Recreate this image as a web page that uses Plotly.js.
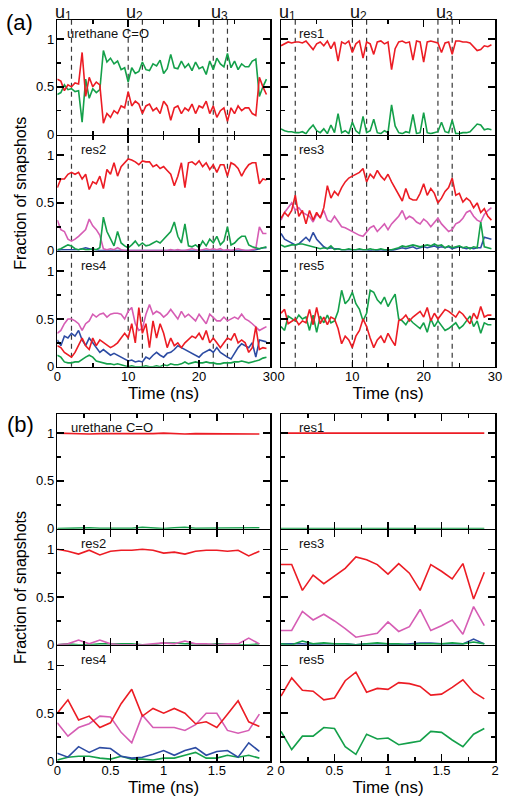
<!DOCTYPE html>
<html>
<head>
<meta charset="utf-8">
<script src="https://cdn.plot.ly/plotly-3.0.1.min.js"></script>
<style>
html,body{margin:0;padding:0;background:#fff;}
#chart{width:512px;height:804px;}
</style>
</head>
<body>
<div id="chart"></div>
<script>
// ---------------- DATA ----------------
const timeA = [0,0.5,1,1.5,2,2.5,3,3.5,4,4.5,5,5.5,6,6.5,7,7.5,8,8.5,9,9.5,10,10.5,11,11.5,12,12.5,13,13.5,14,14.5,15,15.5,16,16.5,17,17.5,18,18.5,19,19.5,20,20.5,21,21.5,22,22.5,23,23.5,24,24.5,25,25.5,26,26.5,27,27.5,28,28.5,29,29.5];
const timeB = [0,0.1,0.2,0.3,0.4,0.5,0.6,0.7,0.8,0.9,1.0,1.1,1.2,1.3,1.4,1.5,1.6,1.7,1.8,1.9];

const panelNames = ['urethane C=O','res1','res2','res3','res4','res5'];
const dashTimes = [2,10,12,22,24];
const uLetter = 'u';
const uSubs = ['1','2','3'];
const uCenters = [1,11,23];
const xTicksA = [0,10,20,30];
const xTickTextA = ['0','10','20','30'];
const xMinorA = [5,15,25];
const xTicksB = [0,0.5,1,1.5,2];
const xTickTextB = ['0','0.5','1','1.5','2'];
const xMinorB = [0.25,0.75,1.25,1.75];
const yTicks = [0,0.5,1];
const yTickText = ['0','0.5','1'];
const yMinor = [0.25,0.75];

// (a) urethane C=O
const aUrethRed   = [0.58,0.56,0.46,0.52,0.50,0.54,0.53,0.86,0.40,0.60,0.50,0.55,0.52,0.12,0.22,0.18,0.25,0.22,0.30,0.28,0.45,0.30,0.35,0.32,0.22,0.30,0.32,0.25,0.28,0.22,0.35,0.30,0.15,0.28,0.30,0.22,0.28,0.25,0.32,0.22,0.30,0.28,0.35,0.22,0.30,0.18,0.25,0.28,0.14,0.28,0.22,0.30,0.25,0.28,0.28,0.22,0.20,0.60,0.50,0.42];
const aUrethGreen = [0.42,0.44,0.52,0.47,0.48,0.45,0.46,0.13,0.58,0.38,0.48,0.44,0.47,0.88,0.76,0.80,0.74,0.77,0.68,0.70,0.55,0.70,0.64,0.66,0.76,0.68,0.67,0.74,0.72,0.78,0.64,0.69,0.84,0.70,0.69,0.77,0.70,0.74,0.67,0.76,0.69,0.71,0.63,0.77,0.68,0.80,0.74,0.71,0.85,0.70,0.77,0.68,0.74,0.71,0.71,0.77,0.79,0.40,0.50,0.58];
// (a) res1
const aRes1Red   = [0.93,0.95,0.97,0.96,0.97,0.97,0.96,0.98,0.93,0.89,0.95,0.97,0.93,0.98,0.90,0.97,0.77,0.97,0.95,0.98,0.86,0.95,0.98,0.80,0.97,0.95,0.84,0.97,0.98,0.95,0.97,0.68,0.90,0.97,0.98,0.96,0.97,0.78,0.98,0.97,0.76,0.97,0.98,0.97,0.96,0.86,0.96,0.97,0.84,0.98,0.98,0.97,0.97,0.96,0.92,0.88,0.89,0.93,0.92,0.94];
const aRes1Green = [0.06,0.04,0.03,0.03,0.02,0.02,0.03,0.01,0.06,0.10,0.04,0.02,0.06,0.01,0.10,0.02,0.22,0.02,0.04,0.01,0.13,0.04,0.01,0.19,0.02,0.04,0.16,0.02,0.01,0.04,0.02,0.31,0.09,0.02,0.01,0.03,0.02,0.21,0.01,0.02,0.23,0.02,0.01,0.02,0.03,0.13,0.03,0.02,0.15,0.01,0.01,0.02,0.02,0.03,0.07,0.11,0.10,0.05,0.06,0.05];
// (a) res2
const aRes2Red   = [0.66,0.75,0.75,0.80,0.82,0.80,0.82,0.75,0.80,0.64,0.72,0.70,0.78,0.65,0.85,0.80,0.92,0.78,0.88,0.92,0.96,0.95,0.93,0.90,0.94,0.93,0.93,0.88,0.90,0.86,0.88,0.84,0.80,0.68,0.78,0.92,0.66,0.92,0.93,0.90,0.94,0.88,0.92,0.85,0.90,0.82,0.90,0.90,0.78,0.92,0.90,0.86,0.78,0.85,0.90,0.92,0.92,0.70,0.75,0.74];
const aRes2Green = [0.01,0.02,0.04,0.06,0.05,0.02,0.01,0.02,0.01,0.01,0.02,0.01,0.03,0.35,0.20,0.12,0.05,0.20,0.08,0.05,0.03,0.06,0.10,0.05,0.08,0.05,0.06,0.08,0.10,0.08,0.12,0.15,0.20,0.30,0.15,0.08,0.28,0.05,0.04,0.06,0.03,0.10,0.05,0.12,0.08,0.15,0.06,0.10,0.25,0.06,0.08,0.12,0.15,0.15,0.06,0.04,0.03,0.02,0.03,0.04];
const aRes2Pink  = [0.32,0.22,0.20,0.12,0.10,0.12,0.15,0.18,0.22,0.33,0.26,0.22,0.16,0.02,0.01,0.02,0.01,0.03,0.01,0.00,0.00,0.00,0.00,0.00,0.00,0.00,0.00,0.00,0.00,0.00,0.00,0.00,0.01,0.00,0.01,0.00,0.00,0.01,0.02,0.01,0.00,0.01,0.02,0.01,0.02,0.01,0.02,0.00,0.01,0.00,0.01,0.02,0.01,0.00,0.00,0.01,0.02,0.25,0.18,0.18];
const aRes2Blue  = [0.00,0.01,0.01,0.01,0.01,0.01,0.01,0.02,0.03,0.02,0.01,0.01,0.00,0.00,0.00,0.00,0.00,0.00,0.00,0.00,0.00,0.00,0.00,0.00,0.00,0.00,0.00,0.00,0.00,0.00,0.00,0.00,0.00,0.00,0.00,0.00,0.00,0.00,0.00,0.00,0.00,0.00,0.00,0.00,0.00,0.00,0.00,0.00,0.00,0.00,0.00,0.00,0.00,0.00,0.00,0.00,0.01,0.02,0.03,0.03];
// (a) res3
const aRes3Red   = [0.34,0.40,0.36,0.42,0.58,0.36,0.42,0.28,0.42,0.32,0.40,0.34,0.45,0.68,0.55,0.62,0.58,0.66,0.72,0.76,0.78,0.80,0.82,0.86,0.72,0.80,0.76,0.84,0.78,0.74,0.80,0.72,0.65,0.58,0.52,0.65,0.55,0.53,0.53,0.60,0.70,0.58,0.65,0.60,0.50,0.55,0.62,0.66,0.76,0.58,0.60,0.51,0.55,0.52,0.45,0.50,0.40,0.44,0.36,0.32];
const aRes3Pink  = [0.32,0.40,0.45,0.50,0.42,0.45,0.40,0.38,0.36,0.30,0.38,0.35,0.42,0.32,0.30,0.36,0.30,0.25,0.24,0.22,0.20,0.18,0.16,0.15,0.20,0.24,0.26,0.20,0.24,0.28,0.22,0.28,0.32,0.36,0.42,0.33,0.36,0.34,0.30,0.28,0.33,0.30,0.25,0.30,0.34,0.28,0.24,0.20,0.22,0.28,0.30,0.34,0.40,0.42,0.36,0.32,0.30,0.38,0.42,0.45];
const aRes3Blue  = [0.18,0.12,0.10,0.08,0.06,0.07,0.10,0.14,0.10,0.19,0.12,0.08,0.04,0.02,0.03,0.02,0.02,0.01,0.01,0.01,0.01,0.01,0.01,0.01,0.01,0.00,0.01,0.00,0.01,0.00,0.01,0.00,0.01,0.02,0.03,0.02,0.03,0.04,0.02,0.03,0.04,0.03,0.04,0.05,0.03,0.04,0.03,0.04,0.02,0.03,0.04,0.03,0.02,0.03,0.02,0.03,0.03,0.14,0.13,0.12];
const aRes3Green = [0.06,0.04,0.05,0.06,0.06,0.07,0.07,0.06,0.05,0.04,0.03,0.02,0.03,0.02,0.05,0.01,0.02,0.01,0.01,0.02,0.01,0.01,0.02,0.01,0.01,0.02,0.01,0.01,0.02,0.01,0.01,0.01,0.02,0.03,0.05,0.04,0.05,0.06,0.05,0.04,0.05,0.06,0.05,0.07,0.05,0.06,0.03,0.05,0.03,0.04,0.05,0.03,0.04,0.02,0.04,0.03,0.30,0.04,0.03,0.02];
// (a) res4
const aRes4Pink  = [0.35,0.38,0.45,0.50,0.50,0.48,0.45,0.38,0.45,0.48,0.55,0.52,0.55,0.56,0.52,0.55,0.56,0.56,0.55,0.50,0.58,0.62,0.45,0.38,0.40,0.55,0.65,0.55,0.58,0.56,0.52,0.55,0.60,0.55,0.50,0.58,0.52,0.55,0.52,0.48,0.55,0.50,0.45,0.55,0.52,0.48,0.48,0.52,0.48,0.50,0.52,0.50,0.55,0.50,0.48,0.45,0.42,0.38,0.40,0.42];
const aRes4Red   = [0.22,0.20,0.15,0.12,0.10,0.15,0.22,0.30,0.22,0.18,0.30,0.22,0.28,0.25,0.22,0.20,0.22,0.25,0.30,0.35,0.30,0.45,0.25,0.62,0.35,0.45,0.20,0.48,0.30,0.45,0.35,0.20,0.30,0.22,0.25,0.20,0.25,0.28,0.32,0.30,0.35,0.28,0.38,0.25,0.30,0.25,0.20,0.25,0.30,0.28,0.35,0.25,0.28,0.25,0.15,0.20,0.42,0.18,0.20,0.19];
const aRes4Blue  = [0.28,0.22,0.32,0.30,0.35,0.32,0.38,0.28,0.22,0.30,0.25,0.20,0.15,0.18,0.15,0.12,0.14,0.12,0.10,0.08,0.06,0.07,0.05,0.06,0.05,0.10,0.08,0.12,0.15,0.12,0.10,0.14,0.15,0.18,0.22,0.20,0.18,0.16,0.14,0.12,0.10,0.14,0.16,0.18,0.15,0.20,0.15,0.12,0.10,0.08,0.14,0.20,0.24,0.22,0.20,0.25,0.10,0.28,0.27,0.26];
const aRes4Green = [0.12,0.10,0.05,0.04,0.04,0.05,0.05,0.08,0.10,0.12,0.10,0.06,0.05,0.04,0.03,0.03,0.02,0.03,0.02,0.01,0.00,0.01,0.00,0.00,0.00,0.01,0.00,0.00,0.01,0.00,0.02,0.01,0.03,0.02,0.02,0.03,0.05,0.03,0.04,0.05,0.04,0.04,0.05,0.04,0.04,0.03,0.03,0.04,0.04,0.04,0.05,0.05,0.06,0.05,0.04,0.05,0.06,0.07,0.09,0.10];
// (a) res5
const aRes5Red   = [0.56,0.60,0.45,0.48,0.50,0.44,0.48,0.46,0.60,0.44,0.62,0.45,0.52,0.44,0.52,0.50,0.40,0.24,0.32,0.28,0.20,0.32,0.38,0.50,0.42,0.30,0.20,0.28,0.32,0.25,0.35,0.28,0.22,0.48,0.50,0.54,0.48,0.52,0.55,0.58,0.52,0.62,0.48,0.56,0.50,0.55,0.60,0.58,0.55,0.52,0.58,0.55,0.50,0.45,0.56,0.50,0.63,0.52,0.54,0.54];
const aRes5Green = [0.42,0.38,0.53,0.50,0.48,0.54,0.50,0.52,0.38,0.54,0.36,0.53,0.46,0.54,0.46,0.48,0.58,0.80,0.66,0.70,0.78,0.66,0.60,0.48,0.56,0.80,0.78,0.70,0.66,0.73,0.63,0.70,0.76,0.50,0.48,0.44,0.50,0.46,0.43,0.40,0.46,0.36,0.50,0.42,0.48,0.43,0.38,0.40,0.43,0.46,0.40,0.43,0.48,0.53,0.42,0.48,0.35,0.46,0.44,0.44];

// (b) urethane C=O
const bUrethRed   = [1.0,0.995,0.995,0.99,0.995,0.995,0.99,0.995,0.99,0.995,1.0,0.995,0.99,0.995,0.995,0.995,0.995,0.995,0.99,0.99];
const bUrethGreen = [0.0,0.005,0.005,0.01,0.005,0.005,0.01,0.005,0.015,0.005,0.0,0.01,0.015,0.005,0.005,0.005,0.005,0.005,0.01,0.01];
// (b) res1
const bRes1Red   = [1.0,1.0,1.0,1.0,0.995,1.0,1.0,1.0,1.0,1.0,1.0,1.0,1.0,0.995,1.0,1.0,1.0,1.0,1.0,1.0];
const bRes1Green = [0.0,0.0,0.0,0.0,0.005,0.0,0.0,0.0,0.0,0.0,0.0,0.0,0.0,0.005,0.0,0.0,0.0,0.0,0.0,0.0];
// (b) res2
const bRes2Red   = [1.0,0.98,0.95,0.99,0.94,0.98,0.99,0.99,1.0,0.99,0.96,0.97,0.95,0.98,0.99,0.99,0.98,0.99,0.93,0.98];
const bRes2Pink  = [0.0,0.01,0.05,0.01,0.05,0.01,0.0,0.0,0.0,0.01,0.02,0.01,0.04,0.01,0.01,0.0,0.01,0.01,0.07,0.01];
const bRes2Green = [0.0,0.01,0.0,0.0,0.01,0.01,0.01,0.01,0.0,0.0,0.02,0.02,0.01,0.01,0.0,0.01,0.01,0.0,0.0,0.01];
// (b) res3
const bRes3Red   = [0.84,0.84,0.57,0.73,0.64,0.72,0.80,0.92,0.89,0.84,0.74,0.85,0.75,0.57,0.84,0.77,0.69,0.85,0.48,0.76];
const bRes3Pink  = [0.15,0.15,0.35,0.26,0.32,0.25,0.17,0.08,0.10,0.12,0.24,0.14,0.19,0.37,0.15,0.20,0.26,0.11,0.40,0.20];
const bRes3Blue  = [0.01,0.01,0.01,0.0,0.01,0.01,0.01,0.0,0.01,0.01,0.01,0.0,0.01,0.02,0.02,0.01,0.01,0.01,0.06,0.01];
const bRes3Green = [0.01,0.0,0.04,0.01,0.02,0.01,0.01,0.0,0.01,0.02,0.01,0.01,0.0,0.01,0.01,0.01,0.02,0.01,0.03,0.01];
// (b) res4
const bRes4Red   = [0.50,0.64,0.43,0.47,0.35,0.40,0.60,0.75,0.47,0.55,0.50,0.55,0.50,0.39,0.41,0.35,0.49,0.63,0.41,0.36];
const bRes4Pink  = [0.40,0.26,0.35,0.39,0.47,0.46,0.30,0.19,0.48,0.35,0.35,0.35,0.32,0.38,0.50,0.50,0.32,0.29,0.32,0.49];
const bRes4Blue  = [0.08,0.04,0.15,0.09,0.14,0.13,0.05,0.03,0.04,0.07,0.11,0.06,0.11,0.14,0.06,0.10,0.11,0.04,0.19,0.10];
const bRes4Green = [0.01,0.04,0.05,0.05,0.03,0.02,0.05,0.02,0.02,0.01,0.03,0.03,0.06,0.09,0.03,0.03,0.06,0.04,0.06,0.03];
// (b) res5
const bRes5Red   = [0.68,0.87,0.74,0.73,0.64,0.66,0.84,0.93,0.72,0.76,0.75,0.82,0.81,0.78,0.69,0.70,0.77,0.85,0.72,0.65];
const bRes5Green = [0.31,0.12,0.26,0.26,0.35,0.34,0.15,0.07,0.28,0.23,0.24,0.17,0.19,0.21,0.31,0.30,0.22,0.15,0.28,0.34];

// ---------------- STYLE ----------------
const C = {red:'#ec1c24', green:'#14a04a', pink:'#d65db4', blue:'#2d4ca3'};
const FONT = 'Liberation Sans, Arial, Helvetica, sans-serif';
const W = 512, H = 804;
const LW = 1.5;
const colPx = [[57.3,270],[281,495]];
function stackRows(top, bottom, n, gap) {
  const h = (bottom - top - gap * (n - 1)) / n;
  const out = [];
  for (let i = 0; i < n; i++) { const t = top + i * (h + gap); out.push([t, t + h]); }
  return out;
}
const rowPx = stackRows(20, 366.7, 3, LW).concat(stackRows(414, 761, 3, LW));
const nameOffsetPx = [8,16,22,16,22,16, 12,16,22,16,22,16];

// series per subplot (order: (a) 6 panels, then (b) 6 panels)
const subplotSeries = [
  [[aUrethGreen,'green'],[aUrethRed,'red']],
  [[aRes1Green,'green'],[aRes1Red,'red']],
  [[aRes2Blue,'blue'],[aRes2Pink,'pink'],[aRes2Green,'green'],[aRes2Red,'red']],
  [[aRes3Blue,'blue'],[aRes3Pink,'pink'],[aRes3Red,'red'],[aRes3Green,'green']],
  [[aRes4Green,'green'],[aRes4Blue,'blue'],[aRes4Pink,'pink'],[aRes4Red,'red']],
  [[aRes5Green,'green'],[aRes5Red,'red']],
  [[bUrethGreen,'green'],[bUrethRed,'red']],
  [[bRes1Green,'green'],[bRes1Red,'red']],
  [[bRes2Green,'green'],[bRes2Pink,'pink'],[bRes2Red,'red']],
  [[bRes3Blue,'blue'],[bRes3Green,'green'],[bRes3Pink,'pink'],[bRes3Red,'red']],
  [[bRes4Green,'green'],[bRes4Blue,'blue'],[bRes4Pink,'pink'],[bRes4Red,'red']],
  [[bRes5Green,'green'],[bRes5Red,'red']]
];

const traces = [];
const layout = {
  width: W, height: H,
  margin: {l:0,r:0,t:0,b:0},
  paper_bgcolor: '#ffffff',
  plot_bgcolor: 'rgba(0,0,0,0)',
  showlegend: false,
  font: {family: FONT, color: '#000', size: 13},
  annotations: [],
  shapes: []
};

for (let k = 0; k < 12; k++) {
  const n = k + 1;
  const isA = k < 6;
  const col = k % 2;
  const rowInPanel = Math.floor((k % 6) / 2);
  const row = rowInPanel + (isA ? 0 : 3);
  const bottom = rowInPanel === 2;
  const xs = isA ? timeA : timeB;
  const xid = 'x' + (n === 1 ? '' : n);
  const yid = 'y' + (n === 1 ? '' : n);

  subplotSeries[k].forEach(([vals, c]) => {
    traces.push({
      x: xs, y: vals, type: 'scatter', mode: 'lines',
      xaxis: xid, yaxis: yid,
      line: {color: C[c], width: 1.6},
      hoverinfo: 'skip'
    });
  });

  const common = {
    showline: true, linecolor: '#000', linewidth: LW, mirror: 'ticks',
    ticks: 'inside', ticklen: 7, tickwidth: 1.5, tickcolor: '#000',
    showgrid: false, zeroline: false, fixedrange: true,
    tickfont: {family: FONT, size: 13, color: '#000'}
  };
  const xa = Object.assign({}, common, {
    domain: [colPx[col][0]/W, colPx[col][1]/W],
    anchor: yid,
    range: isA ? [0,30] : [0,2],
    tickmode: 'array',
    tickvals: isA ? xTicksA : xTicksB,
    ticktext: isA ? xTickTextA : xTickTextB,
    showticklabels: bottom,
    ticklabelstandoff: -3,
    minor: {tickmode:'array', tickvals: isA ? xMinorA : xMinorB, ticks:'inside', ticklen: 4, tickwidth: 1.5, tickcolor:'#000'}
  });
  if (bottom) xa.title = {text: 'Time (ns)', font: {family: FONT, size: 17, color: '#000'}, standoff: 1};
  const ya = Object.assign({}, common, {
    domain: [1 - rowPx[row][1]/H, 1 - rowPx[row][0]/H],
    anchor: xid,
    range: [0,1.2],
    tickmode: 'array',
    tickvals: yTicks,
    ticktext: yTickText,
    showticklabels: col === 0,
    ticklabelstandoff: -1,
    minor: {tickmode:'array', tickvals: yMinor, ticks:'inside', ticklen: 4, tickwidth: 1.5, tickcolor:'#000'}
  });
  if (col === 0 && rowInPanel === 1) ya.title = {text: 'Fraction of snapshots', font: {family: FONT, size: 16, color: '#000'}, standoff: 5};

  layout['xaxis' + (n === 1 ? '' : n)] = xa;
  layout['yaxis' + (n === 1 ? '' : n)] = ya;

  // panel name
  const colW = colPx[col][1] - colPx[col][0];
  const rowH = rowPx[row][1] - rowPx[row][0];
  layout.annotations.push({
    text: panelNames[k % 6],
    xref: xid + ' domain', yref: yid + ' domain',
    x: nameOffsetPx[k] / colW, y: 1 - 13 / rowH,
    xanchor: 'left', yanchor: 'middle', showarrow: false,
    font: {family: FONT, size: 13, color: '#111'}
  });
}

// dashed reference lines and u labels in panel (a)
['x','x2'].forEach(xr => {
  dashTimes.forEach(t => {
    layout.shapes.push({
      type: 'line', xref: xr, yref: 'paper', layer: 'below',
      x0: t, x1: t, y0: 1 - rowPx[2][1]/H, y1: 1 - rowPx[0][0]/H,
      line: {color: '#3a3a3a', width: 1.2, dash: '5px,4px'}
    });
  });
  uSubs.forEach((sub, i) => {
    layout.annotations.push({
      text: uLetter, xref: xr, yref: 'paper', x: uCenters[i], y: 1 - 12/H,
      xanchor: 'right', xshift: 3, yanchor: 'middle', showarrow: false,
      font: {family: FONT, size: 18, color: '#111'}
    });
    layout.annotations.push({
      text: sub, xref: xr, yref: 'paper', x: uCenters[i], y: 1 - 16/H,
      xanchor: 'left', xshift: -1, yanchor: 'middle', showarrow: false,
      font: {family: FONT, size: 12, color: '#111'}
    });
  });
});

// panel letters
layout.annotations.push({text:'(a)', xref:'paper', yref:'paper', x:19/W, y:1-22/H, xanchor:'center', yanchor:'middle', showarrow:false, font:{family:FONT, size:22, color:'#000'}});
layout.annotations.push({text:'(b)', xref:'paper', yref:'paper', x:20/W, y:1-425/H, xanchor:'center', yanchor:'middle', showarrow:false, font:{family:FONT, size:22, color:'#000'}});

Plotly.newPlot('chart', traces, layout, {staticPlot: true, displayModeBar: false});
</script>
</body>
</html>
